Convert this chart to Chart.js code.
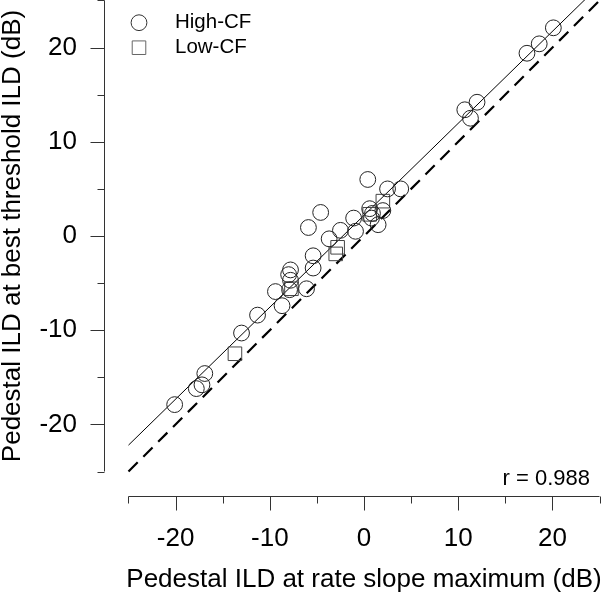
<!DOCTYPE html>
<html><head><meta charset="utf-8">
<script src="https://cdn.jsdelivr.net/npm/chart.js@4/dist/chart.umd.min.js"></script>
<style>
html,body{margin:0;padding:0;background:#fff;overflow:hidden;}
#frame{position:relative;width:602px;height:593px;overflow:hidden;background:#fff;}
#wrap{position:absolute;left:0;top:-25px;width:626px;height:618px;}
</style></head><body>
<div id="frame"><div id="wrap"><canvas id="c"></canvas></div></div>
<script>
// ---- data ----
const highX = [-20.1,-17.8,-17.2,-16.9,-13.0,-11.3,-8.7,-9.4,-7.8,-8.0,-7.8,-7.9,-6.1,-5.4,-5.4,-5.9,-4.6,-3.7,-2.5,-1.1,-0.9,0.4,0.6,0.9,0.8,1.5,2.0,2.5,3.9,10.7,11.3,12.0,17.3,18.6,20.1];
const highY = [-17.9,-16.2,-15.8,-14.6,-10.3,-8.4,-7.4,-5.9,-3.6,-4.1,-4.7,-5.7,-5.6,-3.4,-2.1,0.9,2.5,-0.3,0.6,1.9,0.5,6.0,2.9,2.4,1.9,1.2,2.7,5.0,5.0,13.4,12.5,14.2,19.4,20.4,22.1];
const lowX = [-13.7,-7.7,-2.8,-3.0,0.6,2.0];
const lowY = [-12.5,-5.6,-1.2,-1.9,2.3,3.7];
const fitX = [-25, 25];
const fitY = [-22.2, 26.6];
const unityX = [-25, 25];
const unityY = [-25, 25];
const majorTicks = [-20, -10, 0, 10, 20];
const minorTicks = [-25, -15, -5, 5, 15, 25];
const seriesLabels = ['High-CF', 'Low-CF'];
const statLabel = 'r = 0.988';
const xTitle = 'Pedestal ILD at rate slope maximum (dB)';
const yTitle = 'Pedestal ILD at best threshold ILD (dB)';

const FONT = "'Liberation Sans', Arial, Helvetica, sans-serif";
const pts = (xs, ys) => xs.map((x, i) => ({x: x, y: ys[i]}));

const axisPlugin = {
  id: 'rAxes',
  afterDraw(chart) {
    const ctx = chart.ctx, xs = chart.scales.x, ys = chart.scales.y, ca = chart.chartArea;
    ctx.save();
    ctx.strokeStyle = '#333';
    ctx.lineWidth = 1;
    const yb = Math.round(ca.bottom) + 0.5;
    const xl = Math.round(ca.left) + 0.5;
    ctx.beginPath();
    ctx.moveTo(xs.getPixelForValue(minorTicks[0]), yb);
    ctx.lineTo(xs.getPixelForValue(minorTicks[minorTicks.length - 1]), yb);
    ctx.moveTo(xl, ys.getPixelForValue(minorTicks[0]));
    ctx.lineTo(xl, ys.getPixelForValue(minorTicks[minorTicks.length - 1]));
    majorTicks.forEach(v => {
      const px = Math.round(xs.getPixelForValue(v)) + 0.5;
      ctx.moveTo(px, yb); ctx.lineTo(px, yb + 14);
      const py = Math.round(ys.getPixelForValue(v)) + 0.5;
      ctx.moveTo(xl, py); ctx.lineTo(xl - 14, py);
    });
    minorTicks.forEach(v => {
      const px = Math.round(xs.getPixelForValue(v)) + 0.5;
      ctx.moveTo(px, yb); ctx.lineTo(px, yb + 7);
      const py = Math.round(ys.getPixelForValue(v)) + 0.5;
      ctx.moveTo(xl, py); ctx.lineTo(xl - 7, py);
    });
    ctx.stroke();

    // legend
    const lx = 139, ly0 = 47.7, dy = 25;
    [0, 1].forEach(i => {
      const ds = chart.data.datasets[i];
      const y = ly0 + i * dy;
      ctx.fillStyle = 'rgba(0,0,0,0)';
      ctx.strokeStyle = i === 0 ? '#333' : '#666';
      ctx.lineWidth = ds.borderWidth;
      Chart.helpers.drawPoint(ctx, {
        pointStyle: ds.pointStyle, radius: ds.pointRadius, borderWidth: ds.borderWidth, rotation: 0
      }, lx, y);
      ctx.fillStyle = '#000';
      ctx.font = '20.5px ' + FONT;
      ctx.textAlign = 'left';
      ctx.textBaseline = 'middle';
      ctx.fillText(seriesLabels[i], 175, y);
    });
    // stat label
    ctx.font = '22px ' + FONT;
    ctx.textAlign = 'right';
    ctx.textBaseline = 'alphabetic';
    ctx.fillStyle = '#000';
    ctx.fillText(statLabel, 590, 510);
    ctx.restore();
  }
};

const zeroPad = s => { s.paddingTop = 0; s.paddingBottom = 0; s.paddingLeft = 0; s.paddingRight = 0; };

new Chart(document.getElementById('c'), {
  type: 'scatter',
  data: {
    datasets: [
      {label: seriesLabels[0], data: pts(highX, highY), pointStyle: 'circle', pointRadius: 7.9,
       pointHoverRadius: 7.9, backgroundColor: 'rgba(0,0,0,0)', borderColor: '#222', borderWidth: 1},
      {label: seriesLabels[1], data: pts(lowX, lowY), pointStyle: 'rect', pointRadius: 9.6,
       pointHoverRadius: 9.6, backgroundColor: 'rgba(0,0,0,0)', borderColor: '#444', borderWidth: 1},
      {label: 'fit', data: pts(fitX, fitY), showLine: true, pointRadius: 0, borderColor: '#000',
       borderWidth: 1, fill: false},
      {label: 'unity', data: pts(unityX, unityY), showLine: true, pointRadius: 0, borderColor: '#000',
       borderWidth: 2.2, borderDash: [13, 8], fill: false}
    ]
  },
  options: {
    responsive: true,
    maintainAspectRatio: false,
    animation: false,
    layout: {autoPadding: false, padding: {top: 1, right: 2, left: 0, bottom: 0}},
    plugins: {legend: {display: false}, tooltip: {enabled: false}},
    scales: {
      x: {
        type: 'linear', min: -27.6, max: 27.6,
        afterFit: s => { s.height = 97; zeroPad(s); },
        afterBuildTicks: s => { s.ticks = majorTicks.map(v => ({value: v})); },
        grid: {display: false, drawTicks: false},
        border: {display: false},
        ticks: {color: '#000', font: {family: FONT, size: 26}, padding: 27.4, maxRotation: 0, autoSkip: false},
        title: {display: true, text: xTitle, color: '#000', font: {family: FONT, size: 26, lineHeight: 1}, padding: 0}
      },
      y: {
        type: 'linear', min: -27.6, max: 27.6,
        afterFit: s => { s.width = 104; zeroPad(s); },
        afterBuildTicks: s => { s.ticks = majorTicks.map(v => ({value: v})); },
        grid: {display: false, drawTicks: false},
        border: {display: false},
        ticks: {color: '#000', font: {family: FONT, size: 26}, padding: 27, autoSkip: false},
        title: {display: true, text: yTitle, color: '#000', font: {family: FONT, size: 26, lineHeight: 1}, padding: 0}
      }
    }
  },
  plugins: [axisPlugin]
});
</script>
</body></html>
